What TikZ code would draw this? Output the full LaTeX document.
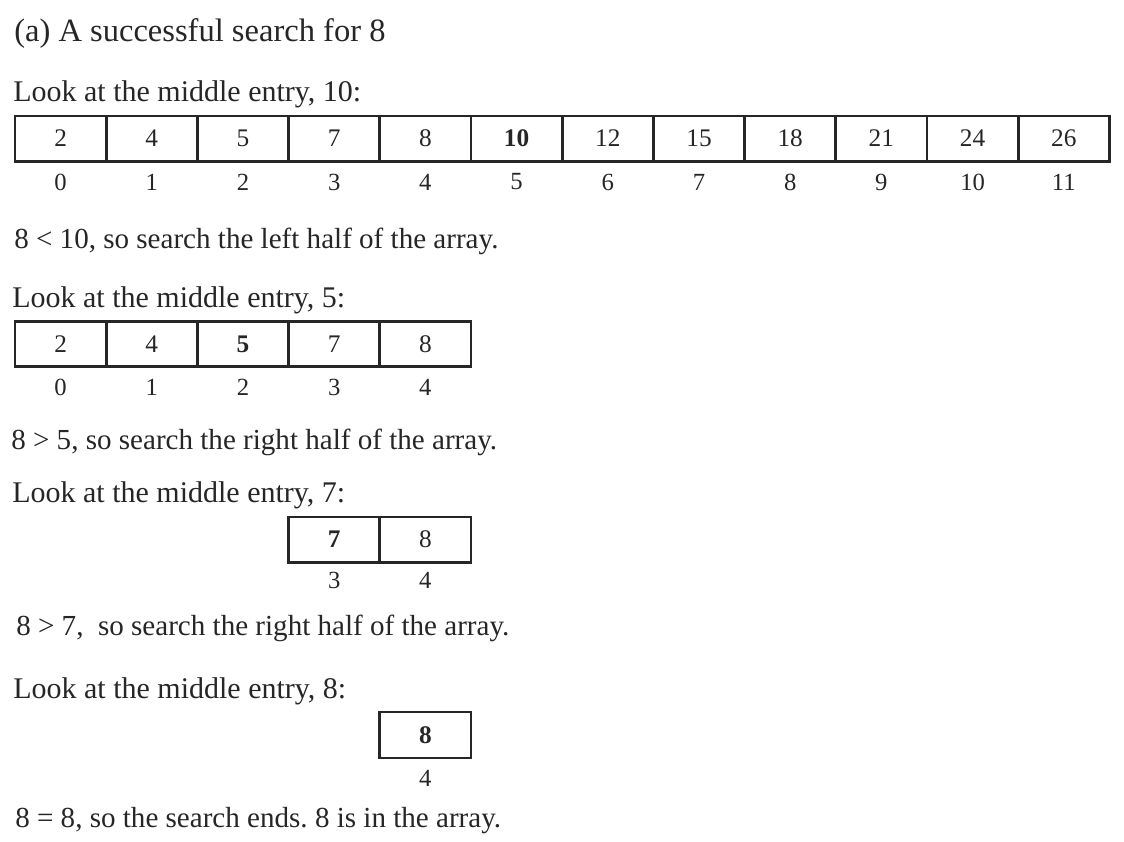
\documentclass[tikz,border=0pt]{standalone}
\usepackage{fontspec}
\setmainfont{Liberation Serif}
\definecolor{ink}{HTML}{262626}
\frenchspacing
\begin{document}
\begin{tikzpicture}[x=0.75pt,y=-0.75pt,
  title/.style={anchor=base west, inner sep=0, text=ink, font=\fontsize{24.4}{28}\selectfont},
  txt/.style={anchor=base west, inner sep=0, text=ink, font=\fontsize{22.5}{26}\selectfont},
  res/.style={anchor=base west, inner sep=0, text=ink, font=\fontsize{21.8}{26}\selectfont},
  cell/.style={draw=ink, line width=2pt, minimum width=68.4pt, minimum height=34pt, inner sep=0, outer sep=0, text=ink, font=\fontsize{19}{22}\selectfont},
  idx/.style={inner sep=0, text=ink, font=\fontsize{18.5}{22}\selectfont}]
\useasboundingbox (0,0) rectangle (1124,842);
% title and first array
\node[title] (t) at (14,42) {(a) A successful search for 8};
\node[txt] (l1) at (13,102) {Look at the middle entry, 10:};
\foreach \v [count=\i from 0] in {2,4,5,7,8,\textbf{10},12,15,18,21,24,26} {
  \node[cell] (a\i) at ({15+91.2*(\i+0.5)},138.5) {\v};
  \node[idx] (ai\i) at ({15+91.2*(\i+0.5)},182) {\i};
}
\node[res] (r1) at (14,248) {8 < 10, so search the left half of the array.};
% second array
\node[txt] (l2) at (12,307) {Look at the middle entry, 5:};
\foreach \v [count=\i from 0] in {2,4,\textbf{5},7,8} {
  \node[cell] (b\i) at ({15+91.2*(\i+0.5)},344) {\v};
  \node[idx] (bi\i) at ({15+91.2*(\i+0.5)},387) {\i};
}
\node[res] (r2) at (11,449) {8 > 5, so search the right half of the array.};
% third array
\node[txt] (l3) at (12,502) {Look at the middle entry, 7:};
\node[cell] (c3) at ({15+91.2*3.5},539.5) {\textbf{7}};
\node[cell] (c4) at ({15+91.2*4.5},539.5) {8};
\node[idx] (ci3) at ({15+91.2*3.5},580) {3};
\node[idx] (ci4) at ({15+91.2*4.5},580) {4};
\node[res] (r3) at (16,635) {8 > 7,\hspace{0.5em}so search the right half of the array.};
% fourth array
\node[txt] (l4) at (13,698) {Look at the middle entry, 8:};
\node[cell, minimum height=46*0.75pt] (d4) at ({15+91.2*4.5},735) {\textbf{8}};
\node[idx] (di4) at ({15+91.2*4.5},778) {4};
\node[res] (r4) at (15,827) {8 = 8, so the search ends. 8 is in the array.};
\end{tikzpicture}
\end{document}
